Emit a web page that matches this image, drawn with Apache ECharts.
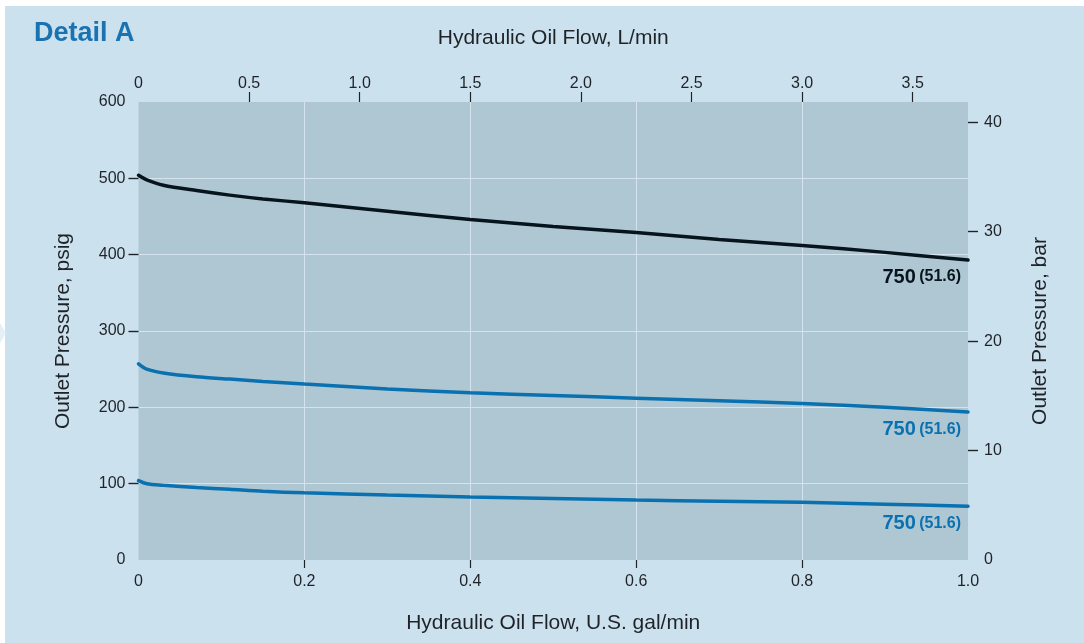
<!DOCTYPE html>
<html>
<head>
<meta charset="utf-8">
<script src="https://cdn.jsdelivr.net/npm/echarts@6/dist/echarts.min.js"></script>
<style>
html,body{margin:0;padding:0;background:#ffffff;}
#chart{width:1084px;height:643px;}
</style>
</head>
<body>
<div id="chart"></div>
<script>
// ---- data ----
const flowGal = [0, 0.01, 0.03, 0.07, 0.11, 0.15, 0.2, 0.3, 0.4, 0.5, 0.6, 0.7, 0.8, 0.9, 1.0];
const psiHigh = [504, 498, 491, 484, 478, 473, 468, 457, 446, 437, 429, 420, 412, 403, 393];
const psiMid  = [257, 250, 245, 240, 237, 234, 230.5, 224, 219, 215.5, 212, 208.5, 205, 200, 194];
const psiLow  = [104, 100, 98, 95, 92.6, 90, 88, 85, 82.5, 80.5, 78.6, 77, 75.5, 73, 70.5];
const curveLabelMain = ['750', '750', '750'];
const curveLabelSub  = ['(51.6)', '(51.6)', '(51.6)'];
const galTicks = [0, 0.2, 0.4, 0.6, 0.8, 1.0];
const lpmTicks = [0, 0.5, 1.0, 1.5, 2.0, 2.5, 3.0, 3.5];
const psigTicks = [0, 100, 200, 300, 400, 500, 600];
const barTicks = [0, 10, 20, 30, 40];
const LPM_MAX = 3.75;   // top axis extent as drawn
const BAR_MAX = 41.85;  // right axis extent as drawn

const textColor = '#1f2328';
const blue = '#0a71b0';
const black = '#07141d';

function pairs(ys){ return flowGal.map((x,i)=>[x, ys[i]]); }

function makeSeries(ys, color, idx, offY){
  return {
    type: 'line',
    xAxisIndex: 0, yAxisIndex: 0,
    data: pairs(ys),
    smooth: 0.3,
    showSymbol: false,
    symbol: 'none',
    lineStyle: {color: color, width: 3.5, cap: 'round'},
    z: 5,
    endLabel: {
      show: true,
      formatter: () => '{a|' + curveLabelMain[idx] + '} {b|' + curveLabelSub[idx] + '}',
      align: 'right',
      verticalAlign: 'middle',
      offset: [-7, offY],
      distance: 0,
      rich: {
        a: {fontSize: 20, fontWeight: 'bold', color: color, fontFamily: 'Liberation Sans, Arial, sans-serif'},
        b: {fontSize: 16, fontWeight: 'bold', color: color, fontFamily: 'Liberation Sans, Arial, sans-serif'}
      }
    }
  };
}

const chart = echarts.init(document.getElementById('chart'), null, {renderer: 'canvas'});
const font = 'Liberation Sans, Arial, Helvetica, sans-serif';
chart.setOption({
  backgroundColor: '#cce1ee',
  animation: false,
  textStyle: {fontFamily: font},
  title: {
    text: 'Detail A', left: 29, top: 15,
    textStyle: {fontSize: 27, fontWeight: 'bold', color: '#1a72b1', fontFamily: font}
  },
  graphic: [
    {type: 'rect', shape: {x: 0, y: 0, width: 1084, height: 6}, style: {fill: '#ffffff'}, z: 100},
    {type: 'rect', shape: {x: 0, y: 0, width: 5, height: 643}, style: {fill: '#ffffff'}, z: 100},
    {type: 'polygon', shape: {points: [[0,323],[6,333],[0,343]]}, style: {fill: '#e4eff6'}, z: 100}
  ],
  grid: {
    left: 138.5, right: 116, top: 102, bottom: 83,
    show: true, backgroundColor: '#afc7d3', borderWidth: 0
  },
  xAxis: [
    {
      type: 'value', position: 'bottom', min: 0, max: 1, splitNumber: 5,
      name: 'Hydraulic Oil Flow, U.S. gal/min', nameLocation: 'middle', nameGap: 53,
      nameTextStyle: {fontSize: 21, color: textColor},
      axisLine: {show: false, onZero: false},
      axisTick: {show: true, inside: false, length: 8, lineStyle: {color: textColor, width: 1.2},
                 customValues: galTicks.slice(1, -1)},
      axisLabel: {fontSize: 16, color: textColor, margin: 14, customValues: galTicks,
                  formatter: v => v === 0 ? '0' : v.toFixed(1)},
      splitLine: {show: true, lineStyle: {color: '#d3e4ee', width: 1}}
    },
    {
      type: 'value', position: 'top', min: 0, max: LPM_MAX,
      name: 'Hydraulic Oil Flow, L/min', nameLocation: 'middle', nameGap: 53,
      nameTextStyle: {fontSize: 21, color: textColor},
      axisLine: {show: false, onZero: false},
      axisTick: {show: true, inside: false, length: 10, lineStyle: {color: textColor, width: 1.2},
                 customValues: lpmTicks.slice(1)},
      axisLabel: {fontSize: 16, color: textColor, margin: 10, customValues: lpmTicks,
                  formatter: v => v === 0 ? '0' : v.toFixed(1)},
      splitLine: {show: false}
    }
  ],
  yAxis: [
    {
      type: 'value', position: 'left', min: 0, max: 600, interval: 100,
      name: 'Outlet Pressure, psig', nameLocation: 'middle', nameGap: 65, nameRotate: 90,
      nameTextStyle: {fontSize: 21, color: textColor},
      axisLine: {show: false, onZero: false},
      axisTick: {show: true, inside: false, length: 10, lineStyle: {color: textColor, width: 1.4},
                 customValues: psigTicks.slice(1, -1)},
      axisLabel: {fontSize: 16, color: textColor, margin: 13, customValues: psigTicks},
      splitLine: {show: true, lineStyle: {color: '#d3e4ee', width: 1}}
    },
    {
      type: 'value', position: 'right', min: 0, max: BAR_MAX,
      name: 'Outlet Pressure, bar', nameLocation: 'middle', nameGap: 62, nameRotate: 90,
      nameTextStyle: {fontSize: 21, color: textColor},
      axisLine: {show: false, onZero: false},
      axisTick: {show: true, inside: false, length: 10, lineStyle: {color: textColor, width: 1.4},
                 customValues: barTicks.slice(1)},
      axisLabel: {fontSize: 16, color: textColor, margin: 16, customValues: barTicks},
      splitLine: {show: false}
    }
  ],
  series: [
    makeSeries(psiHigh, black, 0, 17),
    makeSeries(psiMid, blue, 1, 18),
    makeSeries(psiLow, blue, 2, 17)
  ]
});
</script>
</body>
</html>
